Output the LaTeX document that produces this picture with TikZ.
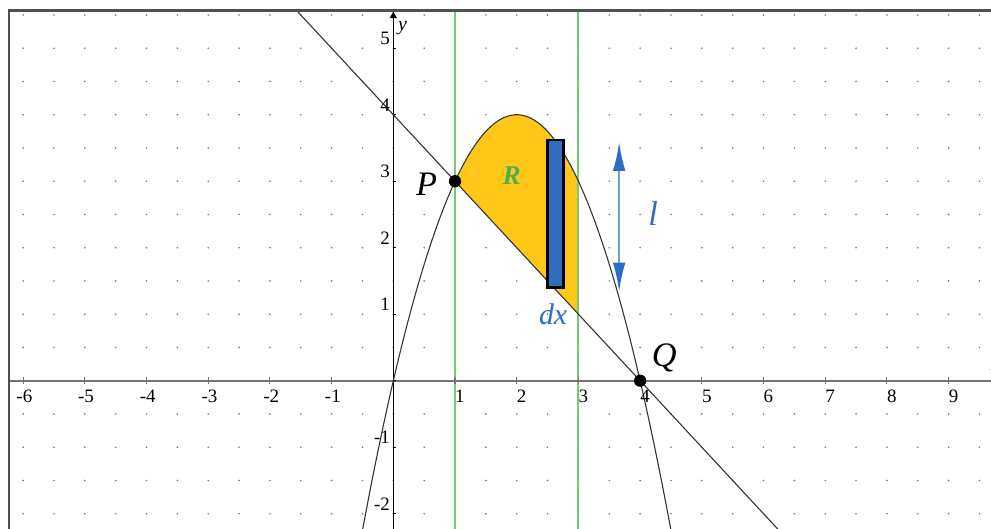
\documentclass[tikz,border=0pt]{standalone}
\usepackage{fontspec}
\setmainfont{Liberation Serif}
\usetikzlibrary{arrows.meta}
\definecolor{regionyellow}{RGB}{255,199,23}
\definecolor{stripblue}{RGB}{46,110,188}
\definecolor{arrowblue}{RGB}{44,110,195}
\definecolor{shaftblue}{RGB}{110,160,215}
\definecolor{labelgreen}{RGB}{76,175,80}
\definecolor{bandgreen}{RGB}{120,200,120}
\definecolor{dotgray}{RGB}{120,120,120}
\definecolor{framegray}{RGB}{80,80,80}
\tikzset{
  pt/.style={circle, fill=black, inner sep=0pt, minimum size=6.8pt},
  ticklab/.style={inner sep=0pt, font=\fontsize{10.5}{11}\selectfont},
  ptname/.style={inner sep=0pt, font=\fontsize{19}{21}\selectfont\itshape},
  curve/.style={black!80, line width=0.6pt},
  band/.style={bandgreen, line width=1.1pt},
  ltip/.tip={Latex[length=16pt,width=7pt,color=arrowblue]}
}
\begin{document}
\begin{tikzpicture}[x=1.2cm, y=1.2934cm, >=Stealth]
\useasboundingbox (-6.375,-2.215) rectangle (9.687,5.725);
\begin{scope}
\clip (-6.23,-2.215) rectangle (9.687,5.57);
\foreach \i in {-6,-5.5,...,9.5}
  \foreach \j in {-2,-1.5,...,5.5}
    \fill[dotgray] (\i,\j) circle (0.5pt);
\fill[regionyellow] plot[domain=1:3, samples=40] (\x,{4*\x-\x*\x}) -- (3,1) -- cycle;
\draw[band] (1,-2.3) -- (1,5.6);
\draw[band] (3,-2.3) -- (3,5.6);
\draw[black!55, line width=1.1pt] (-6.3,0) -- (9.8,0);
\foreach \i in {-6,...,9}
  \draw[black!55, line width=0.6pt] (\i,-0.05) -- (\i,0.05);
\draw[line width=0.7pt, -{Latex[length=4pt,width=4.5pt]}] (0,-2.3) -- (0,5.56);
\foreach \j in {-2,...,5}
  \draw[line width=0.5pt] (0,\j) -- (0.05,\j);
\draw[curve] plot[domain=-0.55:4.55, samples=80] (\x,{4*\x-\x*\x});
\draw[curve] (-1.7,5.7) -- (6.4,-2.4);
\draw[fill=stripblue, line width=1.6pt] (2.5,1.4) rectangle (2.755,3.62);
\end{scope}
\draw[framegray, line width=1.4pt] (-6.23,-2.3) -- (-6.23,5.57) -- (9.8,5.57);
\foreach \i in {-6,...,-1}
  \node[ticklab] (xt\i) at (\i+0.02,-0.23) {-\the\numexpr-\i\relax};
\foreach \i in {1,...,9}
  \node[ticklab] (xt\i) at (\i+0.08,-0.23) {\i};
\foreach \j in {-2,-1,1,2,3,4,5}
  \node[ticklab, anchor=south east] (yt\j) at (-0.05,\j+0.05) {\j};
\node[ticklab, font=\fontsize{11}{12}\selectfont\itshape] (ylab) at (0.15,5.3) {y};
\node[ticklab, font=\fontsize{11}{12}\selectfont\itshape] (xlab) at (9.76,0.22) {x};
\node[pt] (P) at (1,3) {};
\node[pt] (Q) at (4,0) {};
\node[ptname] (Plab) at (0.54,2.96) {P};
\node[ptname] (Qlab) at (4.39,0.34) {Q};
\node[inner sep=0pt, text=labelgreen, font=\fontsize{15}{16}\selectfont\bfseries\itshape] (Rlab) at (1.92,3.09) {R};
\coordinate (ltop) at (3.66,3.59);
\coordinate (lbot) at (3.66,1.34);
\draw[shaftblue, line width=1.2pt, ltip-ltip] (lbot) -- (ltop);
\node[inner sep=0pt, text=arrowblue, font=\fontsize{19}{21}\selectfont\itshape] (llab) at (4.21,2.51) {l};
\node[inner sep=0pt, text=arrowblue, font=\fontsize{16.5}{18}\selectfont\itshape] (dxlab) at (2.59,1.0) {dx};
\end{tikzpicture}
\end{document}
